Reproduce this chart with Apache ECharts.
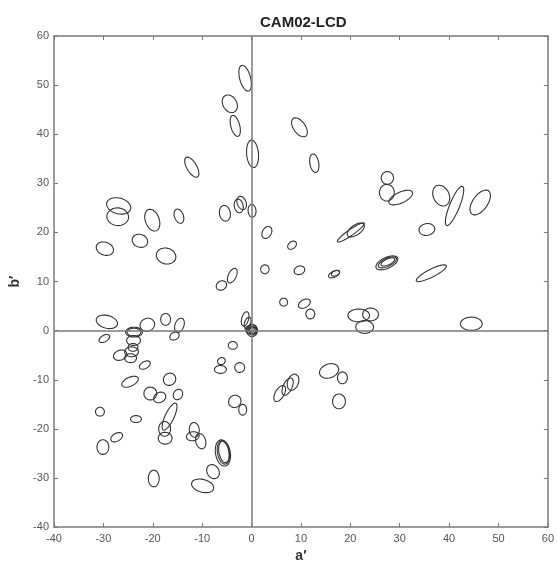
<!DOCTYPE html>
<html>
<head>
<meta charset="utf-8">
<script src="https://cdn.jsdelivr.net/npm/echarts@6/dist/echarts.min.js"></script>
<style>
  html, body { margin: 0; padding: 0; background: #fff; }
  #chart { width: 557px; height: 568px; }
</style>
</head>
<body>
<div id="chart"></div>
<script>
// Each ellipse: [a', b', semi-axis along tilt, semi-axis across tilt, tilt in degrees]
const upperLeft = [
  [-1.3, 51.4, 2.7, 1.1, 105], [-4.4, 46.2, 1.9, 1.4, 120], [-3.3, 41.7, 2.2, 0.9, 105],
  [0.2, 36.0, 2.8, 1.2, 95], [-12.1, 33.3, 2.3, 1.0, 120],
  [-26.9, 25.4, 2.5, 1.6, -15], [-27.1, 23.2, 2.2, 1.8, -5], [-20.1, 22.5, 2.3, 1.4, 110],
  [-14.7, 23.3, 1.5, 0.9, 110], [-29.7, 16.7, 1.8, 1.3, -20], [-22.6, 18.3, 1.6, 1.3, -20],
  [-17.3, 15.2, 2.0, 1.6, -15], [-5.4, 23.9, 1.6, 1.1, 100], [-2.6, 25.4, 1.4, 0.9, 100],
  [-2.0, 26.0, 1.4, 0.9, 110], [0.1, 24.4, 1.3, 0.8, 95], [-3.9, 11.2, 1.6, 0.8, 65],
  [-6.1, 9.2, 1.1, 0.9, 30]
];

const upperRight = [
  [9.7, 41.4, 2.2, 1.2, 125], [12.7, 34.1, 1.9, 0.9, 100], [27.5, 31.1, 1.25, 1.3, 0],
  [27.4, 28.1, 1.5, 1.7, 0], [30.2, 27.1, 2.6, 1.1, 25], [38.4, 27.5, 2.2, 1.6, 115],
  [41.1, 25.4, 4.3, 1.0, 68], [46.3, 26.1, 2.9, 1.5, 55], [35.5, 20.6, 1.6, 1.2, 10],
  [20.1, 20.0, 3.3, 0.6, 35], [21.1, 20.5, 2.0, 1.0, 35], [27.4, 13.8, 2.4, 1.1, 25],
  [27.5, 13.9, 2.0, 0.8, 25], [27.6, 14.0, 1.5, 0.6, 25], [36.4, 11.7, 3.4, 0.8, 27],
  [16.7, 11.5, 1.2, 0.6, 25], [17.0, 11.7, 0.9, 0.5, 25], [21.7, 3.1, 2.2, 1.3, 0],
  [24.1, 3.3, 1.6, 1.3, 0], [22.9, 0.75, 1.8, 1.3, 0], [44.5, 1.4, 2.2, 1.35, 0],
  [8.2, 17.4, 1.0, 0.7, 40], [9.7, 12.3, 1.1, 0.85, 20], [6.5, 5.8, 0.8, 0.8, 0],
  [10.7, 5.5, 1.3, 0.8, 30], [11.9, 3.4, 0.9, 1.0, 0], [3.1, 20.0, 1.3, 0.9, 60],
  [2.7, 12.5, 0.85, 0.9, 0]
];

const nearOrigin = [
  [-1.3, 2.4, 1.5, 0.7, 75], [-0.8, 1.6, 1.2, 0.6, 70], [0.1, 0.0, 1.1, 1.2, 0],
  [0.2, 0.3, 0.9, 1.0, 30], [-0.2, 0.2, 0.8, 1.1, 80], [0.3, -0.1, 0.7, 0.8, 0],
  [0.0, 0.3, 0.5, 0.6, 0], [0.1, 0.0, 1.0, 0.7, 20]
];

const lowerLeft = [
  [-29.3, 1.8, 2.2, 1.3, -15], [-29.8, -1.6, 1.2, 0.65, 30], [-23.8, -0.3, 1.7, 1.0, 0],
  [-23.8, -0.3, 1.4, 0.8, 0], [-23.9, -2.0, 1.4, 1.0, 0], [-21.1, 1.2, 1.5, 1.3, 20],
  [-17.4, 2.3, 1.0, 1.2, 0], [-14.6, 1.1, 1.5, 0.9, 70], [-15.6, -1.1, 1.0, 0.75, 30],
  [-26.6, -5.0, 1.4, 1.0, 20], [-24.3, -4.3, 1.4, 1.0, 0], [-24.5, -5.6, 1.2, 0.9, 0],
  [-24.0, -3.4, 1.0, 0.8, 0], [-21.6, -7.0, 1.2, 0.7, 30], [-24.6, -10.4, 1.8, 0.9, 25],
  [-16.6, -9.9, 1.3, 1.2, 45], [-20.5, -12.8, 1.3, 1.3, 0], [-18.6, -13.6, 1.3, 1.0, 30],
  [-14.9, -13.0, 1.1, 0.9, 60], [-30.7, -16.5, 0.9, 0.9, 0], [-23.4, -18.0, 1.1, 0.7, 0],
  [-16.6, -17.5, 3.0, 0.9, 65], [-17.6, -20.0, 1.5, 1.2, 90], [-17.5, -21.9, 1.4, 1.2, 0],
  [-11.6, -20.2, 1.5, 1.0, 95], [-11.9, -21.5, 1.3, 0.9, 10], [-10.3, -22.5, 1.6, 1.0, 105],
  [-5.8, -24.9, 2.7, 1.5, 100], [-5.7, -24.8, 2.4, 1.2, 100], [-5.6, -24.7, 2.2, 1.0, 100],
  [-7.8, -28.7, 1.5, 1.2, 120], [-9.9, -31.6, 2.3, 1.3, -15], [-19.8, -30.1, 1.7, 1.1, 90],
  [-27.3, -21.7, 1.3, 0.8, 30], [-30.1, -23.7, 1.5, 1.2, 90], [-3.8, -3.0, 0.9, 0.8, 0],
  [-2.4, -7.5, 1.0, 1.0, 0], [-6.1, -6.2, 0.8, 0.7, 30], [-6.3, -7.9, 1.2, 0.8, 0],
  [-3.4, -14.4, 1.3, 1.2, 45], [-1.8, -16.1, 1.1, 0.8, 90]
];

const lowerRight = [
  [15.7, -8.2, 2.0, 1.4, 20], [18.4, -9.6, 1.2, 1.0, 90], [5.7, -12.8, 1.8, 0.9, 60],
  [7.3, -11.4, 1.9, 0.9, 65], [8.4, -10.5, 1.7, 1.1, 70], [17.7, -14.4, 1.5, 1.3, 90]
];

const allEllipses = [].concat(upperLeft, upperRight, nearOrigin, lowerLeft, lowerRight);

const axisGray = '#7a7a7a';
const labelGray = '#555';

// Outline of one ellipse, traced in data space and mapped through the axes.
function renderEllipse(params, api) {
  const a = api.value(0), b = api.value(1);
  const ra = api.value(2), rb = api.value(3);
  const th = api.value(4) * Math.PI / 180;
  const pts = [];
  const n = 48;
  for (let k = 0; k < n; k++) {
    const t = (k / n) * Math.PI * 2;
    const u = ra * Math.cos(t), v = rb * Math.sin(t);
    pts.push(api.coord([
      a + u * Math.cos(th) - v * Math.sin(th),
      b + u * Math.sin(th) + v * Math.cos(th)
    ]));
  }
  return {
    type: 'polygon',
    shape: { points: pts },
    style: { fill: 'none', stroke: '#333', lineWidth: 1.1 }
  };
}

const chart = echarts.init(document.getElementById('chart'), null, { renderer: 'canvas' });

const tickStyle = { inside: true, length: 4, lineStyle: { color: axisGray, width: 1 } };
const lineStyle = { show: true, onZero: false, lineStyle: { color: axisGray, width: 1.5 } };

chart.setOption({
  animation: false,
  backgroundColor: '#fff',
  title: {
    text: 'CAM02-LCD',
    left: 255,
    top: 10,
    textStyle: { fontFamily: 'Liberation Sans', fontSize: 15, fontWeight: 'bold', color: '#222' }
  },
  grid: { left: 53, right: 4, top: 36, bottom: 38 },
  xAxis: [
    {
      type: 'value', min: -40, max: 60, interval: 10, position: 'bottom',
      axisLine: lineStyle, axisTick: tickStyle, splitLine: { show: false },
      axisLabel: { color: labelGray, fontSize: 11, margin: 6, fontFamily: 'Liberation Sans' },
      name: 'a′', nameLocation: 'middle', nameGap: 20,
      nameTextStyle: { fontFamily: 'Liberation Sans', fontSize: 14, fontWeight: 'bold', color: '#333' }
    },
    {
      type: 'value', min: -40, max: 60, interval: 10, position: 'top',
      axisLine: lineStyle, axisTick: tickStyle, splitLine: { show: false },
      axisLabel: { show: false }
    }
  ],
  yAxis: [
    {
      type: 'value', min: -40, max: 60, interval: 10, position: 'left',
      axisLine: lineStyle, axisTick: tickStyle, splitLine: { show: false },
      axisLabel: { color: labelGray, fontSize: 11, margin: 5, fontFamily: 'Liberation Sans' },
      name: 'b′', nameLocation: 'middle', nameGap: 32, nameRotate: 90,
      nameTextStyle: { fontFamily: 'Liberation Sans', fontSize: 14, fontWeight: 'bold', color: '#333' }
    },
    {
      type: 'value', min: -40, max: 60, interval: 10, position: 'right',
      axisLine: lineStyle, axisTick: tickStyle, splitLine: { show: false },
      axisLabel: { show: false }
    }
  ],
  series: [
    {
      type: 'custom',
      xAxisIndex: 0,
      yAxisIndex: 0,
      renderItem: renderEllipse,
      encode: { x: 0, y: 1 },
      data: allEllipses,
      silent: true,
      markLine: {
        silent: true,
        symbol: ['none', 'none'],
        label: { show: false },
        lineStyle: { color: axisGray, width: 1.5, type: 'solid' },
        data: [{ xAxis: 0 }, { yAxis: 0 }]
      }
    }
  ]
});
</script>
</body>
</html>
